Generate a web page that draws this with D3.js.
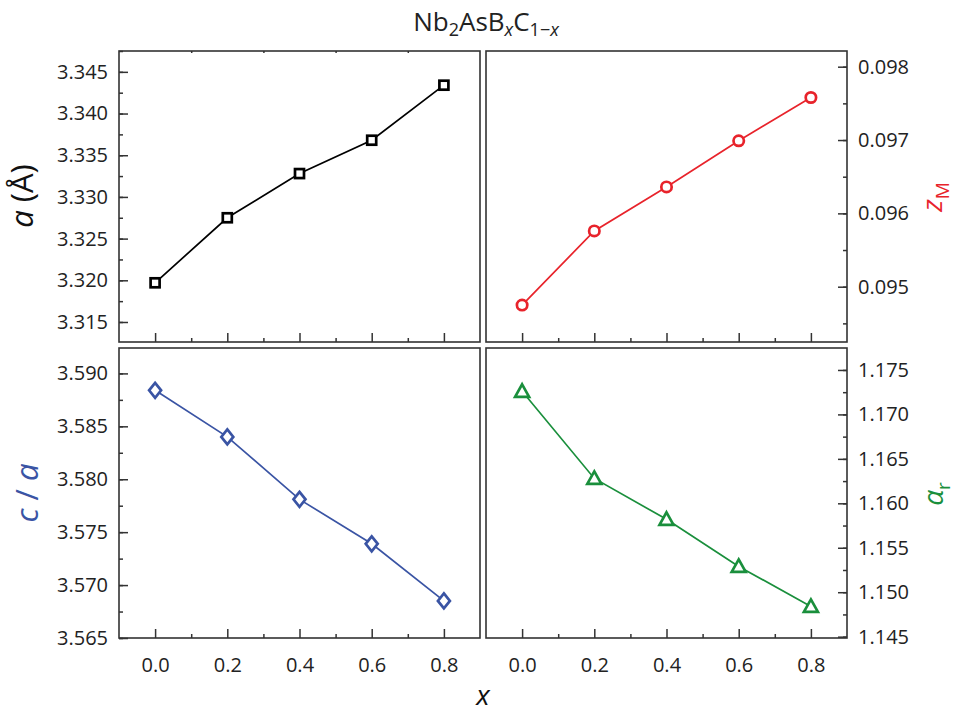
<!DOCTYPE html>
<html>
<head>
<meta charset="utf-8">
<script src="https://cdn.jsdelivr.net/npm/d3@7"></script>
<style>
  body { margin: 0; background: #fff; }
  svg text { font-family: "Open Sans", "Noto Sans", sans-serif; }
</style>
</head>
<body>
<div id="chart"></div>
<script>
// data
var xs = [0.0, 0.2, 0.4, 0.6, 0.8];
var latticeA = [3.3197, 3.3275, 3.3328, 3.3368, 3.3434];
var zM = [0.09475, 0.09576, 0.09636, 0.09699, 0.09758];
var cOverA = [3.5884, 3.5840, 3.5781, 3.5739, 3.5685];
var alphaR = [1.1726, 1.1628, 1.1582, 1.1529, 1.1484];

var xTicks = [0.0, 0.2, 0.4, 0.6, 0.8];
var aTicks = [3.315, 3.320, 3.325, 3.330, 3.335, 3.340, 3.345];
var zTicks = [0.095, 0.096, 0.097, 0.098];
var caTicks = [3.565, 3.570, 3.575, 3.580, 3.585, 3.590];
var arTicks = [1.145, 1.150, 1.155, 1.160, 1.165, 1.170, 1.175];

var width = 964, height = 715;
var svg = d3.select("#chart").append("svg")
    .attr("width", width)
    .attr("height", height);

var colLeft = { x0: 119, x1: 480 },
    colRight = { x0: 486, x1: 847 },
    rowTop = { y0: 51, y1: 342 },
    rowBottom = { y0: 348, y1: 638 };

var panels = [
  { col: colLeft, row: rowTop, values: latticeA, domain: [3.3126, 3.3475], ticks: aTicks, minorStep: 0.0025,
    side: "left", color: "#000000", marker: "square", xLabels: false },
  { col: colRight, row: rowTop, values: zM, domain: [0.094246, 0.098214], ticks: zTicks, minorStep: 0.0005,
    side: "right", color: "#e8232b", marker: "circle", xLabels: false },
  { col: colLeft, row: rowBottom, values: cOverA, domain: [3.565, 3.5924], ticks: caTicks, minorStep: 0.0025,
    side: "left", color: "#3a54a4", marker: "diamond", xLabels: true },
  { col: colRight, row: rowBottom, values: alphaR, domain: [1.14485, 1.17747], ticks: arTicks, minorStep: 0.0025,
    side: "right", color: "#1a8f3c", marker: "triangle", xLabels: true }
];

function minorTicks(domain, step) {
  var out = [];
  var start = Math.ceil(domain[0] / step - 1e-6);
  for (var k = start; k * step <= domain[1] + 1e-9; k++) out.push(+(k * step).toFixed(6));
  return out;
}

panels.forEach(function(p) {
  var x = d3.scaleLinear().domain([-0.1, 0.9]).range([p.col.x0, p.col.x1]);
  var y = d3.scaleLinear().domain(p.domain).range([p.row.y1, p.row.y0]);
  var g = svg.append("g");

  // x axis (bottom), inward ticks
  g.append("g")
      .attr("transform", "translate(0," + p.row.y1 + ")")
      .call(d3.axisBottom(x).tickValues([0.1, 0.3, 0.5, 0.7]).tickSize(-4).tickFormat(""));
  g.append("g")
      .attr("transform", "translate(0," + p.row.y1 + ")")
      .call(d3.axisBottom(x).tickValues(xTicks).tickSize(-9).tickPadding(20)
        .tickFormat(p.xLabels ? d3.format(".1f") : ""));

  if (!p.xLabels && p.side === "left") {
    g.append("g")
        .attr("transform", "translate(0," + p.row.y0 + ")")
        .call(d3.axisTop(x).tickValues([0.1, 0.3, 0.5, 0.7]).tickSize(-2).tickFormat(""));
  }

  // y axis
  var yAxisMinor, yAxisMajor, ax;
  if (p.side === "left") {
    ax = p.col.x0;
    yAxisMinor = d3.axisLeft(y).tickValues(minorTicks(p.domain, p.minorStep)).tickSize(-4).tickFormat("");
    yAxisMajor = d3.axisLeft(y).tickValues(p.ticks).tickSize(-9).tickPadding(11).tickFormat(d3.format(".3f"));
  } else {
    ax = p.col.x1;
    yAxisMinor = d3.axisRight(y).tickValues(minorTicks(p.domain, p.minorStep)).tickSize(-4).tickFormat("");
    yAxisMajor = d3.axisRight(y).tickValues(p.ticks).tickSize(-9).tickPadding(11).tickFormat(d3.format(".3f"));
  }
  g.append("g").attr("transform", "translate(" + ax + ",0)").call(yAxisMinor);
  g.append("g").attr("transform", "translate(" + ax + ",0)").call(yAxisMajor);

  g.selectAll(".domain").remove();
  g.selectAll(".tick line").attr("stroke", "#333").attr("stroke-width", 1.5);
  g.selectAll(".tick text").attr("fill", "#222").style("font-size", "20px");

  // frame
  g.append("rect")
      .attr("x", p.col.x0)
      .attr("y", p.row.y0)
      .attr("width", p.col.x1 - p.col.x0)
      .attr("height", p.row.y1 - p.row.y0)
      .attr("fill", "none")
      .attr("stroke", "#333")
      .attr("stroke-width", 1.6);

  // line
  var pts = xs.map(function(v, i) { return [x(v), y(p.values[i])]; });
  g.append("path")
      .attr("d", d3.line()(pts))
      .attr("fill", "none")
      .attr("stroke", p.color)
      .attr("stroke-width", 1.7);

  // markers
  var m = g.selectAll(".mk").data(pts).enter().append("g")
      .attr("transform", function(d) { return "translate(" + d[0] + "," + d[1] + ")"; });
  if (p.marker === "square") {
    m.append("rect").attr("x", -4.5).attr("y", -4.5).attr("width", 9).attr("height", 9);
  } else if (p.marker === "circle") {
    m.append("circle").attr("r", 5.2);
  } else if (p.marker === "diamond") {
    m.append("path").attr("d", "M0,-7.5L6,0L0,7.5L-6,0Z");
  } else {
    m.append("path").attr("d", "M0,-7L7,5.5L-7,5.5Z");
  }
  m.selectAll("*")
      .attr("fill", "#fff")
      .attr("stroke", p.color)
      .attr("stroke-width", 2.7)
      .attr("stroke-linejoin", "miter");
});

// title
var title = svg.append("text")
    .attr("x", 486)
    .attr("y", 31)
    .attr("text-anchor", "middle")
    .style("font-size", "26px")
    .attr("fill", "#222");
title.append("tspan").text("Nb");
title.append("tspan").attr("dy", 5).style("font-size", "18px").text("2");
title.append("tspan").attr("dy", -5).text("AsB");
title.append("tspan").attr("dy", 5).style("font-size", "18px").style("font-style", "italic").text("x");
title.append("tspan").attr("dy", -5).text("C");
title.append("tspan").attr("dy", 5).style("font-size", "18px").text("1\u2212");
title.append("tspan").style("font-size", "18px").style("font-style", "italic").text("x");

// axis titles
function vLabel(xp, yp, color, size) {
  return svg.append("text")
      .attr("transform", "translate(" + xp + "," + yp + ") rotate(-90)")
      .attr("text-anchor", "middle")
      .style("font-size", size + "px")
      .attr("fill", color);
}

var la = vLabel(33, 196, "#111", 31);
la.append("tspan").style("font-style", "italic").text("a");
la.append("tspan").text(" (\u00C5)");

var lca = vLabel(38, 493, "#3a54a4", 31);
lca.append("tspan").style("font-style", "italic").text("c");
lca.append("tspan").text(" / ");
lca.append("tspan").style("font-style", "italic").text("a");

var lz = vLabel(942, 197, "#e8232b", 28);
lz.append("tspan").style("font-style", "italic").text("z");
lz.append("tspan").attr("dy", 7).style("font-size", "19px").text("M");

var lr = vLabel(943, 494, "#1a8f3c", 28);
lr.append("tspan").style("font-style", "italic").text("\u03B1");
lr.append("tspan").attr("dy", 7).style("font-size", "19px").text("r");

svg.append("text")
    .attr("x", 483)
    .attr("y", 705)
    .attr("text-anchor", "middle")
    .style("font-size", "28px")
    .style("font-style", "italic")
    .attr("fill", "#111")
    .text("x");
</script>
</body>
</html>
